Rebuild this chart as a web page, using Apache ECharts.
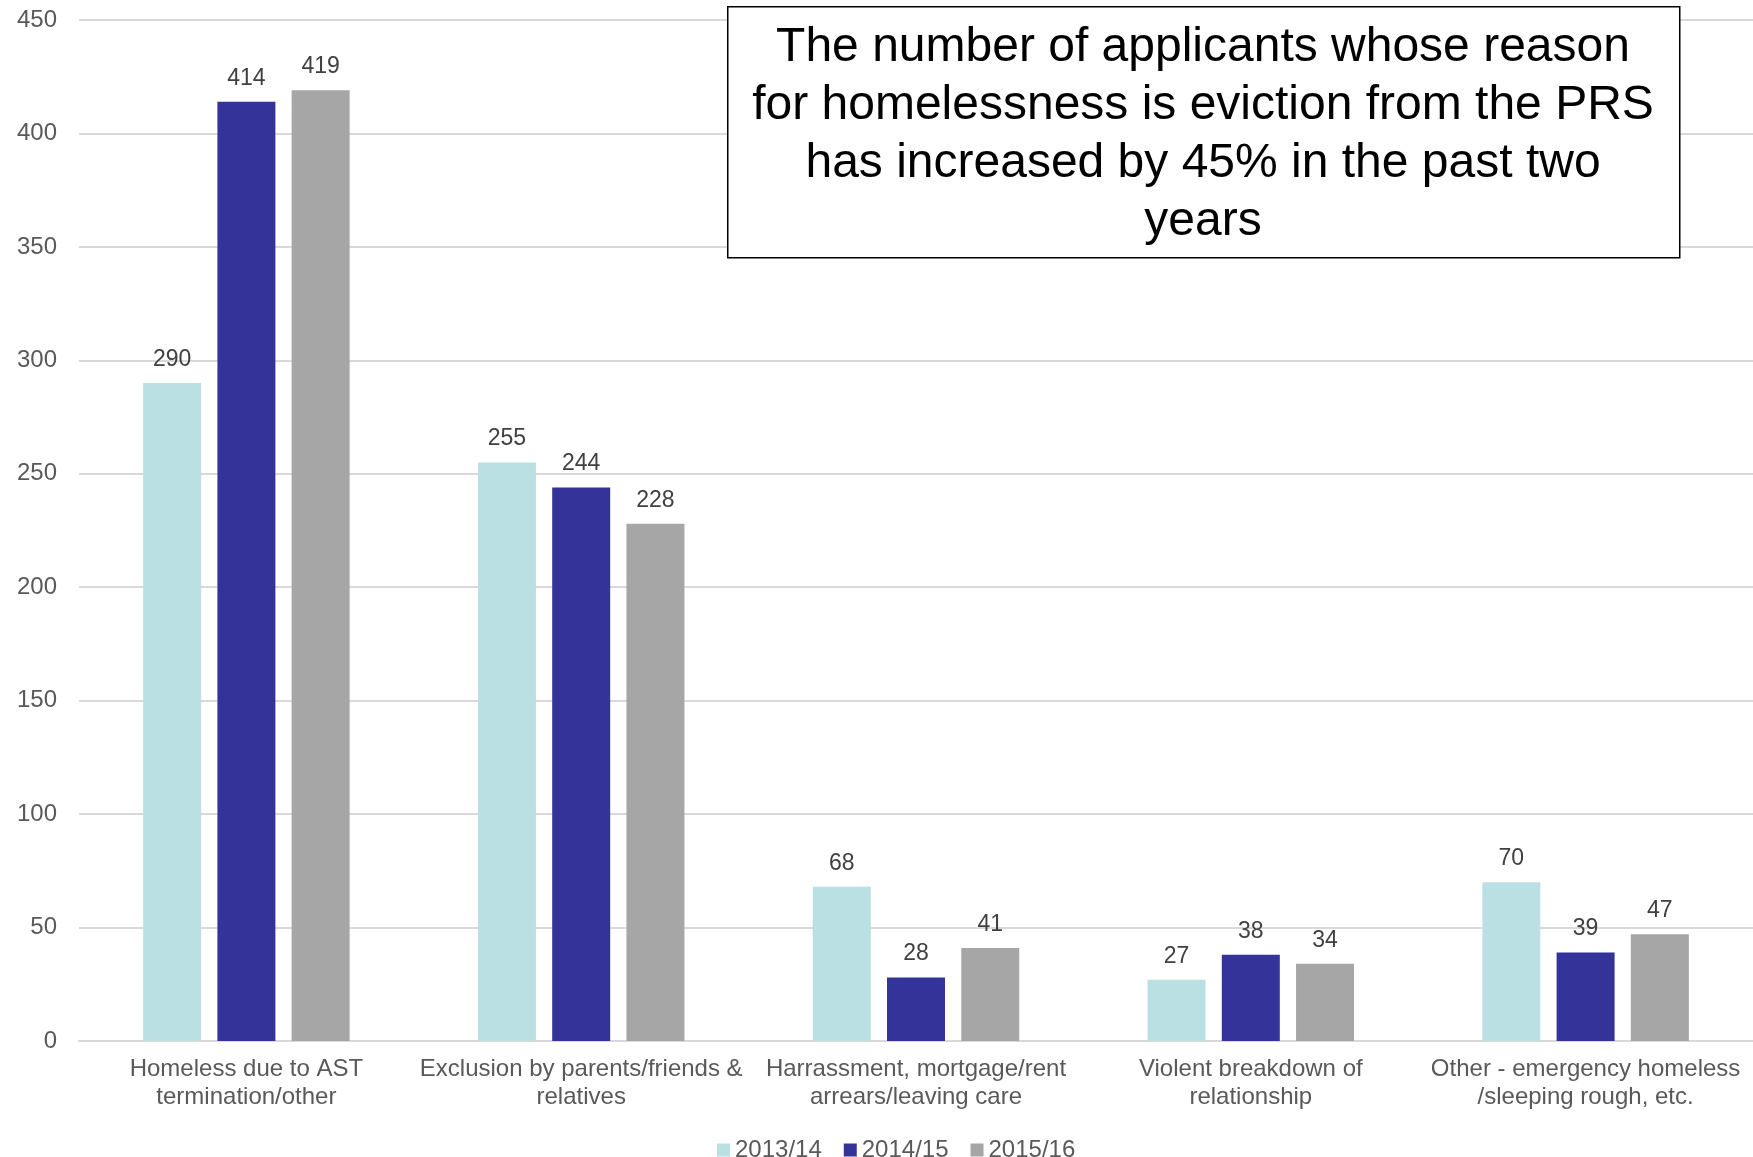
<!DOCTYPE html>
<html>
<head>
<meta charset="utf-8">
<script src="https://cdn.jsdelivr.net/npm/echarts@6/dist/echarts.min.js"></script>
<style>
  html, body { margin: 0; padding: 0; background: #fff; }
  #chart { width: 1753px; height: 1157px; }
</style>
</head>
<body>
<div id="chart"></div>
<script>
    // categories / reasons for homelessness
    let categories = [
        'Homeless due to AST\ntermination/other',
        'Exclusion by parents/friends &\nrelatives',
        'Harrassment, mortgage/rent\narrears/leaving care',
        'Violent breakdown of\nrelationship',
        'Other - emergency homeless\n/sleeping rough, etc.'
    ];
    let seriesNames = ['2013/14', '2014/15', '2015/16'];
    let values2013 = [290, 255, 68, 27, 70];
    let values2014 = [414, 244, 28, 38, 39];
    let values2015 = [419, 228, 41, 34, 47];
    let colors = ['#BBE0E3', '#333399', '#A6A6A6'];

    let boxText = 'The number of applicants whose reason\nfor homelessness is eviction from the PRS\nhas increased by 45% in the past two\nyears';

    const font = '"Liberation Sans", Arial, sans-serif';

    function makeSeries(name, data, color) {
        return {
            name: name,
            type: 'bar',
            data: data,
            barWidth: 58,
            barGap: '28%',
            itemStyle: { color: color },
            label: {
                show: true,
                position: 'top',
                distance: 12,
                color: '#404040',
                fontSize: 23,
                fontFamily: font
            }
        };
    }

    function init() {
        let myChart = echarts.init(document.getElementById('chart'));
        let option = {
            animation: false,
            backgroundColor: '#fff',
            grid: { left: 79, right: 0, top: 20, bottom: 116 },
            legend: {
                data: seriesNames,
                left: 712,
                top: 1133,
                icon: 'rect',
                itemWidth: 13,
                itemHeight: 13,
                itemGap: 22,
                textStyle: { color: '#595959', fontSize: 24, fontFamily: font }
            },
            xAxis: {
                type: 'category',
                data: categories,
                axisLine: { lineStyle: { color: '#D9D9D9', width: 2 } },
                axisTick: { show: false },
                axisLabel: {
                    interval: 0,
                    color: '#595959',
                    fontSize: 24,
                    fontFamily: font,
                    lineHeight: 28,
                    margin: 14
                }
            },
            yAxis: {
                type: 'value',
                min: 0,
                max: 450,
                interval: 50,
                axisLine: { show: false },
                axisTick: { show: false },
                splitLine: { lineStyle: { color: '#D9D9D9', width: 2 } },
                axisLabel: { color: '#595959', fontSize: 24, fontFamily: font, margin: 22 }
            },
            series: [
                makeSeries(seriesNames[0], values2013, colors[0]),
                makeSeries(seriesNames[1], values2014, colors[1]),
                makeSeries(seriesNames[2], values2015, colors[2])
            ],
            graphic: [
                {
                    type: 'rect',
                    left: 727,
                    top: 6,
                    shape: { width: 952, height: 251 },
                    style: { fill: '#fff', stroke: '#000', lineWidth: 1.5 },
                    z: 10
                },
                {
                    type: 'text',
                    x: 1203,
                    y: 135,
                    style: {
                        text: boxText,
                        fill: '#000',
                        font: '48px ' + font,
                        lineHeight: 58,
                        align: 'center',
                        verticalAlign: 'middle'
                    },
                    z: 11
                }
            ]
        };
        myChart.setOption(option);
    }

    window.onload = () => {
        init();
    };
</script>
</body>
</html>
